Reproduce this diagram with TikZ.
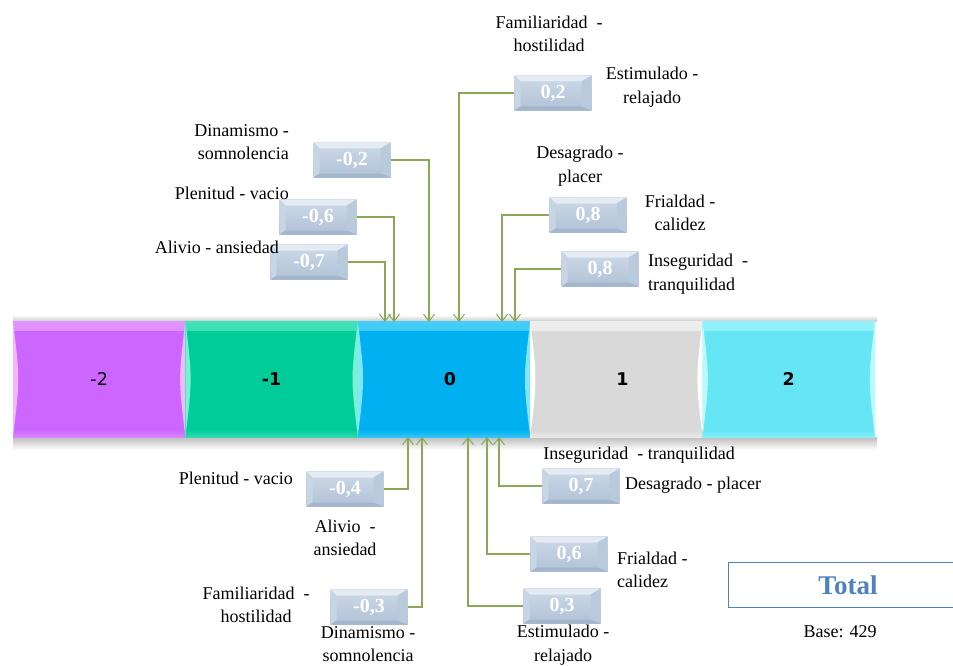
\documentclass[tikz,border=0pt]{standalone}
\usepackage{fontspec}
\setmainfont{Liberation Serif}
\newfontfamily\barfont{DejaVu Sans}
\usetikzlibrary{arrows.meta}

% scale segment colours and their light edge tones
\definecolor{segA}{HTML}{CC66FF}\definecolor{segAl}{HTML}{F2B8FF}
\definecolor{segB}{HTML}{00CC99}\definecolor{segBl}{HTML}{7AF2D2}
\definecolor{segC}{HTML}{00B0F0}\definecolor{segCl}{HTML}{7FE6FF}
\definecolor{segD}{HTML}{D9D9D9}\definecolor{segDl}{HTML}{FFFFFF}
\definecolor{segE}{HTML}{66E5F5}\definecolor{segEl}{HTML}{B5FBFF}
% bevelled value boxes
\definecolor{bvfaceA}{HTML}{CDD9E7}
\definecolor{bvfaceB}{HTML}{B0C2D7}
\definecolor{bvtop}{HTML}{E4EBF3}
\definecolor{bvleft}{HTML}{C8D5E4}
\definecolor{bvright}{HTML}{BACADD}
\definecolor{bvbot}{HTML}{A3B6CC}
\definecolor{linkgreen}{HTML}{8AA858}
\definecolor{totalblue}{HTML}{4F81BD}

\tikzset{
  seg/.style 2 args={minimum width=172.4pt, minimum height=116pt, inner sep=0pt,
    fill=#1, font=\barfont\fontsize{17.5}{19}\selectfont,
    path picture={
      \def\bb{path picture bounding box}
      \shade[top color=#2!55!#1, bottom color=#1] (\bb.north west) rectangle ([yshift=-9pt]\bb.north east);
      \shade[top color=#1, bottom color=#2!40!#1] ([yshift=7pt]\bb.south west) rectangle (\bb.south east);
      \fill[#2] (\bb.north west) .. controls ([xshift=7pt]\bb.west) .. (\bb.south west) -- cycle;
      \fill[#2] (\bb.north east) .. controls ([xshift=-7pt]\bb.east) .. (\bb.south east) -- cycle;
    }},
  valbox/.style={minimum width=77pt, minimum height=35pt, inner sep=0pt,
    text=white, font=\fontsize{20}{22}\selectfont\bfseries,
    path picture={
      \def\bb{path picture bounding box}
      \shade[top color=bvfaceA, bottom color=bvfaceB] (\bb.south west) rectangle (\bb.north east);
      \fill[bvtop] (\bb.north west) -- (\bb.north east) -- ([shift={(-10pt,-6pt)}]\bb.north east)
        -- ([shift={(6pt,-6pt)}]\bb.north west) -- cycle;
      \fill[bvleft] (\bb.north west) -- ([shift={(6pt,-6pt)}]\bb.north west)
        -- ([shift={(6pt,4pt)}]\bb.south west) -- (\bb.south west) -- cycle;
      \fill[bvright] (\bb.north east) -- ([shift={(-10pt,-6pt)}]\bb.north east)
        -- ([shift={(-10pt,4pt)}]\bb.south east) -- (\bb.south east) -- cycle;
      \fill[bvbot] (\bb.south west) -- ([shift={(6pt,4pt)}]\bb.south west)
        -- ([shift={(-10pt,4pt)}]\bb.south east) -- (\bb.south east) -- cycle;
    }},
  lbl/.style={font=\fontsize{18}{23.5}\selectfont, inner sep=0pt},
  link/.style={draw=linkgreen, line width=1.1pt,
    -{Straight Barb[length=7pt, width=11pt, line width=1pt]}},
}

\begin{document}
\begin{tikzpicture}[x=1pt, y=-1pt]
\useasboundingbox (0,0) rectangle (953,666);

% the scale bar with its soft top edge and shadow
\shade[top color=white, bottom color=black!20] (13,315) rectangle (877,321);
\shade[top color=black!26, bottom color=white] (13,437) rectangle (877,450);
\node[seg={segA}{segAl}] (sm2) at (99.2,379)  {-2};
\node[seg={segB}{segBl}] (sm1) at (271.6,379) {\bfseries -1};
\node[seg={segC}{segCl}] (s0)  at (444,379)   {\bfseries\hspace*{12pt}0};
\node[seg={segD}{segDl}] (sp1) at (616.4,379) {\bfseries\hspace*{12pt}1};
\node[seg={segE}{segEl}] (sp2) at (788.8,379) {\bfseries 2};

% arrow tips on the bar edges
\coordinate (tT1) at (459,322);
\coordinate (tT2) at (429,322);
\coordinate (tT3) at (394,322);
\coordinate (tT4) at (385,322);
\coordinate (tT5) at (502,322);
\coordinate (tT6) at (515,322);
\coordinate (tB1) at (408,437);
\coordinate (tB2) at (422,437);
\coordinate (tB3) at (499,437);
\coordinate (tB4) at (487,437);
\coordinate (tB5) at (468,437);

% upper values
\node[valbox] (vT1) at (553,93)  {0,2};
\node[valbox] (vT2) at (352,160) {-0,2};
\node[valbox] (vT3) at (318,217) {-0,6};
\node[valbox] (vT4) at (309,262) {-0,7};
\node[valbox] (vT5) at (588,215) {0,8};
\node[valbox] (vT6) at (600,269) {0,8};

% lower values
\node[valbox] (vB1) at (345,489) {-0,4};
\node[valbox] (vB2) at (369,607) {-0,3};
\node[valbox] (vB3) at (581,486) {0,7};
\node[valbox] (vB4) at (569,554) {0,6};
\node[valbox] (vB5) at (562,606) {0,3};

% connectors
\draw[link] (vT1.west) -| (tT1);
\draw[link] (vT2.east) -| (tT2);
\draw[link] (vT3.east) -| (tT3);
\draw[link] (vT4.east) -| (tT4);
\draw[link] (vT5.west) -| (tT5);
\draw[link] (vT6.west) -| (tT6);
\draw[link] (vB1.east) -| (tB1);
\draw[link] (vB2.east) -| (tB2);
\draw[link] (vB3.west) -| (tB3);
\draw[link] (vB4.west) -| (tB4);
\draw[link] (vB5.west) -| (tB5);

% upper labels
\node[lbl, align=center] (famT) at (549,34) {Familiaridad\ \ -\\hostilidad};
\node[lbl, align=center] (estT) at (652,87) {Estimulado -\\relajado};
\node[lbl, align=right, anchor=east] (dinT) at (289,142) {Dinamismo -\\somnolencia};
\node[lbl, anchor=east] (pleT) at (289,193) {Plenitud - vacio};
\node[lbl, anchor=east] (aliT) at (279,247) {Alivio - ansiedad};
\node[lbl, align=center] (desT) at (580,166) {Desagrado -\\placer};
\node[lbl, align=center] (friT) at (680,213) {Frialdad -\\calidez};
\node[lbl, align=left, anchor=west] (insT) at (648,274) {Inseguridad\ \ -\\tranquilidad};

% lower labels
\node[lbl] (insB) at (639,455) {Inseguridad\ \ - tranquilidad};
\node[lbl, anchor=west] (desB) at (625,485) {Desagrado - placer};
\node[lbl, anchor=east] (pleB) at (293,478) {Plenitud - vacio};
\node[lbl, align=center] (aliB) at (345,538) {Alivio\ \ -\\ansiedad};
\node[lbl, align=center] (famB) at (256,605) {Familiaridad\ \ -\\hostilidad};
\node[lbl, align=center] (dinB) at (368,644) {Dinamismo -\\somnolencia};
\node[lbl, align=left, anchor=west] (friB) at (617,570) {Frialdad -\\calidez};
\node[lbl, align=center] (estB) at (563,645) {Estimulado -\\relajado};

% sample box
\node[draw=totalblue, line width=1pt, minimum width=240pt, minimum height=45pt,
      text=totalblue, font=\fontsize{27}{30}\selectfont\bfseries] (total) at (848,585) {Total};
\node[lbl] (base) at (840,632) {Base: 429};
\end{tikzpicture}
\end{document}
